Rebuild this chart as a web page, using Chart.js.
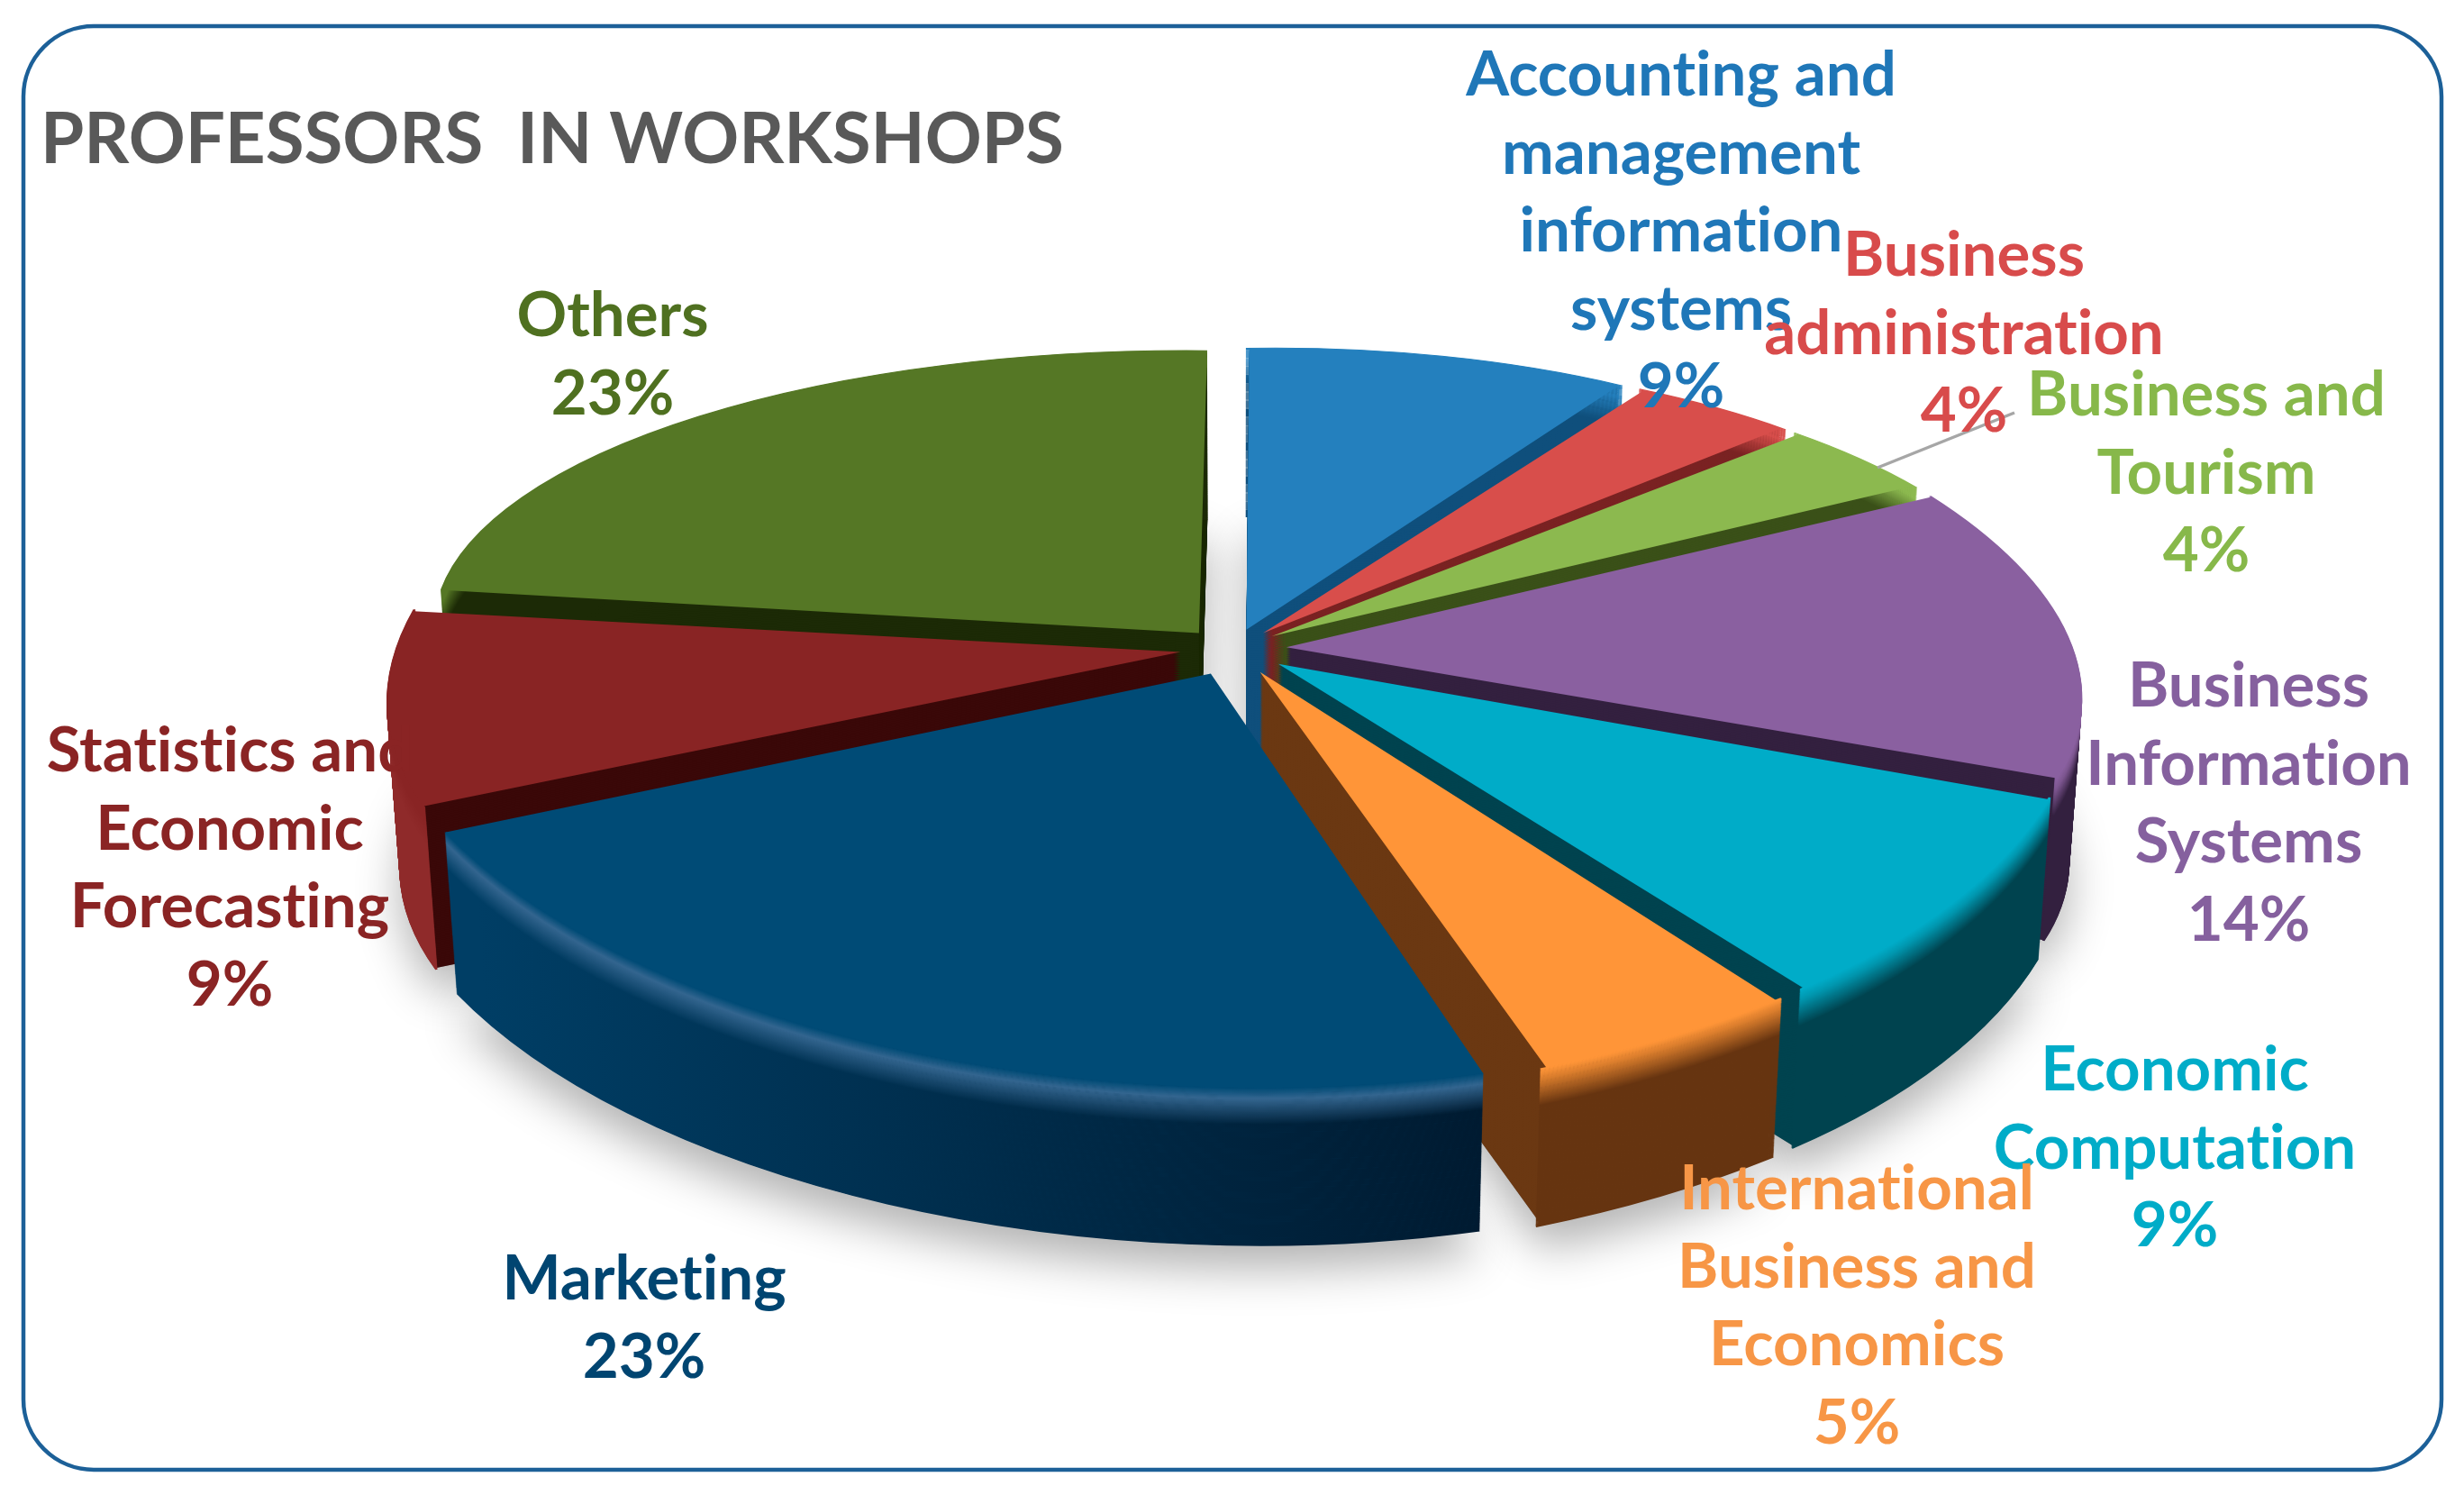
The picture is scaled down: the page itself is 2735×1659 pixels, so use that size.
<!DOCTYPE html>
<html>
<head>
<meta charset="utf-8">
<title>Professors in workshops</title>
<style>
  html, body { margin: 0; padding: 0; background: #fff; }
  canvas { display: block; }
</style>
<script src="https://cdn.jsdelivr.net/npm/chart.js@4"></script>
</head>
<body>
<canvas id="chart" width="2735" height="1659"></canvas>
<script>
const chartTitle = 'PROFESSORS  IN WORKSHOPS';

const categories = [
  'Accounting and management information systems',
  'Business administration',
  'Business and Tourism',
  'Business Information Systems',
  'Economic Computation',
  'International Business and Economics',
  'Marketing',
  'Statistics and Economic Forecasting',
  'Others',
];
const percentages = [9, 4, 4, 14, 9, 5, 23, 9, 23];

const categoryLines = [
  ['Accounting and', 'management', 'information', 'systems'],
  ['Business', 'administration'],
  ['Business and', 'Tourism'],
  ['Business', 'Information', 'Systems'],
  ['Economic', 'Computation'],
  ['International', 'Business and', 'Economics'],
  ['Marketing'],
  ['Statistics and', 'Economic', 'Forecasting'],
  ['Others'],
];

// slice styling
const topColors = ['#2480be', '#d84e4b', '#8cb94f', '#8a60a0', '#00acc8', '#ff9538', '#004b76', '#892424', '#557725'];
const wallColors = ['#0f4f7c', '#7a2222', '#3a5018', '#33203f', '#00434f', '#6b3812', '#003557', '#3a0808', '#1c2a06'];
const sideLeft = ['#0f4f7c', '#7a2222', '#3a5018', '#33203f', '#00434f', '#6f3a13', '#003e65', '#8f2a2a', '#1c2a06'];
const sideRight = ['#0f4f7c', '#7a2222', '#3a5018', '#33203f', '#00434f', '#663410', '#001a30', '#7a2020', '#1c2a06'];
const bevelColors = ['#2480be', '#d84e4b', '#8cb94f', '#7d5690', '#0096ae', '#d87c2c', '#33658f', '#892424', '#557725'];
const textColors = ['#1f77b8', '#d84b4b', '#87b84a', '#85609e', '#00acc8', '#f79646', '#004571', '#8a2424', '#4f7020'];

// label block anchors: centre x, then y of the first line and the line pitch
const labelX = [1866, 2180, 2449, 2496, 2414, 2061, 715, 255, 680];
const labelY = [84, 284, 439, 762, 1188, 1320, 1420, 834, 351];
const linePitch = 86.5;
const labelFont = 'bold 69px Lato';
const titleFont = 'bold 78px Lato';

const DEPTH = 182;
const EXPLODE = 252; // chart.js divides arc offset by 4
const RADIUS = 915;
// viewing model of the pie's top face, in canvas px
const VIEW_A = 872;
const VIEW_B = 375;
const VIEW_PX = 0.14;
const VIEW_PY = 0.2;

function project(t) {
  const s = Math.sin(t);
  return [VIEW_A * Math.cos(t) / (1 - VIEW_PX * s), VIEW_B * s / (1 - VIEW_PY * s)];
}

// best affine map of a slice's arc onto the projected ellipse (least squares, slice corners count more)
function sliceMatrix(arc) {
  let uu = 0, uv = 0, vv = 0, xu = 0, xv = 0, yu = 0, yv = 0;
  for (let k = 0; k <= 12; k++) {
    const t = arc.startAngle + (arc.endAngle - arc.startAngle) * k / 12;
    const wt = (k === 0 || k === 12) ? 15 : 1;
    const u = Math.cos(t);
    const v = Math.sin(t);
    const [px, py] = project(t);
    uu += wt * u * u; uv += wt * u * v; vv += wt * v * v;
    xu += wt * px * u; xv += wt * px * v; yu += wt * py * u; yv += wt * py * v;
  }
  const det = uu * vv - uv * uv;
  return [(xu * vv - xv * uv) / det, (xv * uu - xu * uv) / det, (yu * vv - yv * uv) / det, (yv * uu - yu * uv) / det];
}

function withSlice(ctx, arc, d, fn) {
  const off = EXPLODE / 4;
  const fix = 1 - Math.sin(Math.min(Math.PI, arc.circumference));
  const grown = arc.outerRadius + off * fix;
  const mid = (arc.startAngle + arc.endAngle) / 2;
  const m = sliceMatrix(arc);
  const k = (1 - 0.015 * d / DEPTH) / grown;
  ctx.save();
  ctx.translate(arc.x, arc.y + d);
  ctx.transform(m[0] * k, m[2] * k, m[1] * k, m[3] * k, 0, 0);
  ctx.translate(-arc.x, -arc.y);
  fn(grown, mid, off);
  ctx.restore();
}

function drawAs(ctx, arc, color) {
  const copy = Object.create(arc);
  copy.options = { ...arc.options, backgroundColor: color, borderWidth: 0 };
  copy.draw(ctx);
}

function strokeRim(ctx, arc, grown, mid, off, color, width) {
  ctx.beginPath();
  ctx.arc(arc.x + Math.cos(mid) * off, arc.y + Math.sin(mid) * off, grown, arc.startAngle, arc.endAngle);
  ctx.lineWidth = width;
  ctx.strokeStyle = color;
  ctx.stroke();
}

function mix(a, b, t) {
  const ch = (h, i) => parseInt(h.substr(1 + i * 2, 2), 16);
  const out = [0, 1, 2].map((i) => Math.round(ch(a, i) + (ch(b, i) - ch(a, i)) * t));
  return '#' + out.map((v) => v.toString(16).padStart(2, '0')).join('');
}

const pie3d = {
  id: 'pie3d',
  beforeDatasetDraw(chart, args) {
    const ctx = chart.ctx;
    const arcs = chart.getDatasetMeta(args.index).data.map((arc, i) => ({ arc, i }));
    arcs.sort((a, b) => Math.sin((a.arc.startAngle + a.arc.endAngle) / 2) - Math.sin((b.arc.startAngle + b.arc.endAngle) / 2));

    // soft shadow under the whole pie
    ctx.save();
    ctx.shadowColor = 'rgba(0,0,0,0.3)';
    ctx.shadowBlur = 50;
    ctx.shadowOffsetY = 26;
    arcs.forEach(({ arc }) => withSlice(ctx, arc, DEPTH, () => drawAs(ctx, arc, '#777')));
    ctx.restore();

    arcs.forEach(({ arc, i }) => {
      for (let d = DEPTH; d > 0; d -= 2) {
        withSlice(ctx, arc, d, () => drawAs(ctx, arc, wallColors[i]));
      }
      // outer side with a soft bevel into the top face
      for (let d = DEPTH; d >= 0; d -= 1) {
        const t = d > 12 ? Math.max(0, 1 - (d - 12) / 30) : 1;
        let left = mix(sideLeft[i], bevelColors[i], t);
        let right = mix(sideRight[i], bevelColors[i], t);
        if (d <= 12) {
          left = right = mix(bevelColors[i], topColors[i], 1 - d / 12);
        }
        const grad = ctx.createLinearGradient(arc.x - RADIUS * 0.9, 0, arc.x + RADIUS * 0.3, 0);
        grad.addColorStop(0, left);
        grad.addColorStop(1, right);
        withSlice(ctx, arc, d, (grown, mid, off) => strokeRim(ctx, arc, grown, mid, off, grad, 3));
      }
      withSlice(ctx, arc, 0, () => arc.draw(ctx));
    });
    return false;
  },
};

const frameAndText = {
  id: 'frameAndText',
  beforeDraw(chart) {
    const ctx = chart.ctx;
    ctx.save();
    ctx.fillStyle = '#fff';
    ctx.fillRect(0, 0, chart.width, chart.height);
    ctx.beginPath();
    ctx.roundRect(26, 29, 2684, 1602, 78);
    ctx.strokeStyle = '#1c6098';
    ctx.lineWidth = 4.5;
    ctx.stroke();
    ctx.restore();
  },
  afterDraw(chart) {
    const ctx = chart.ctx;
    ctx.save();
    ctx.textRendering = 'optimizeSpeed'; // no "ti" ligature, as in the reference
    ctx.textBaseline = 'middle';
    ctx.textAlign = 'left';
    ctx.font = titleFont;
    ctx.fillStyle = '#595959';
    ctx.fillText(chartTitle, 45, 156);

    // leader line for Business and Tourism
    ctx.strokeStyle = '#a6a6a6';
    ctx.lineWidth = 3.5;
    ctx.beginPath();
    ctx.moveTo(2084, 519);
    ctx.lineTo(2236, 458);
    ctx.stroke();

    ctx.textAlign = 'center';
    ctx.font = labelFont;
    categoryLines.forEach((lines, i) => {
      ctx.fillStyle = textColors[i];
      lines.concat(percentages[i] + '%').forEach((line, n) => {
        ctx.fillText(line, labelX[i], labelY[i] + n * linePitch);
      });
    });
    ctx.restore();
  },
};

new Chart(document.getElementById('chart'), {
  type: 'pie',
  data: {
    labels: categories,
    datasets: [{
      data: percentages,
      backgroundColor: topColors,
      borderWidth: 0,
      offset: EXPLODE,
      radius: RADIUS,
    }],
  },
  options: {
    responsive: false,
    animation: false,
    layout: { padding: { left: 3, bottom: 221 } },
    plugins: { legend: { display: false }, tooltip: { enabled: false } },
  },
  plugins: [pie3d, frameAndText],
});
</script>
</body>
</html>
